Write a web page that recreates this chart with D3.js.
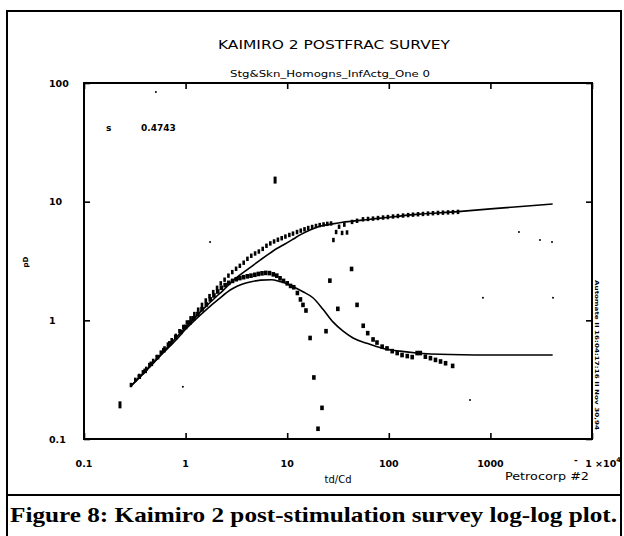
<!DOCTYPE html>
<html><head><meta charset="utf-8">
<script src="https://cdn.jsdelivr.net/npm/d3@7"></script>
<style>body{margin:0;background:#fff} svg{display:block}</style>
</head><body>
<svg id="c" width="624" height="536"></svg>
<script>
const title = "KAIMIRO 2 POSTFRAC SURVEY";
const subtitle = "Stg&Skn_Homogns_InfActg_One 0";
const caption = "Figure 8: Kaimiro 2 post-stimulation survey log-log plot.";
const xLabel = "td/Cd";
const yLabel = "pD";
const credit = "Petrocorp #2";
const sideNote = "Automate II 16:04:17:16 II Nov 30,94";
const skinLabel = "s";
const skinValue = "0.4743";
const xTicks = [0.1, 1, 10, 100, 1000, 10000];
const xTickLabels = ["0.1", "1", "10", "100", "1000", "1 ×10"];
const yTicks = [0.1, 1, 10, 100];
const yTickLabels = ["0.1", "1", "10", "100"];

// measured pressure (upper squares): [td/Cd, pD]
const pressureData = [
 [0.29,0.285],[0.32,0.315],[0.35,0.34],[0.38,0.365],[0.41,0.39],[0.44,0.42],[0.48,0.455],[0.52,0.49],
 [0.57,0.535],[0.62,0.58],[0.67,0.625],[0.73,0.68],[0.80,0.74],[0.87,0.81],[0.95,0.88],[1.03,0.96],
 [1.12,1.04],[1.22,1.13],[1.33,1.23],[1.45,1.35],[1.58,1.47],[1.72,1.6],[1.87,1.73],[2.04,1.88],
 [2.22,2.05],[2.42,2.2],[2.64,2.38],[2.88,2.55],[3.14,2.72],[3.42,2.88],[3.73,3.06],[4.06,3.3],
 [4.43,3.5],[4.83,3.66],[5.26,3.8],[5.74,4.0],[6.25,4.25],[6.82,4.45],[7.43,4.62],[8.1,4.78],
 [8.83,4.92],[9.6,5.08],[10.5,5.24],[11.4,5.38],[12.5,5.55],[13.6,5.7],[14.8,5.85],[16.1,6.0],
 [17.6,6.12],[19.2,6.24],[20.9,6.35],[22.8,6.43],[24.8,6.5],[27.0,6.55],
 [28.5,4.75],[30.3,5.55],[32.4,6.15],[34.7,5.45],[36.5,6.4],[38.8,5.5],
 [43.5,6.75],[48.7,6.9],[55.7,7.1],[62.4,7.15],[69.9,7.2],[78.3,7.28],[87.8,7.35],[98,7.42],
 [110,7.5],[123,7.57],[138,7.64],[155,7.71],[173,7.77],[194,7.83],[217,7.88],[243,7.94],
 [272,7.99],[305,8.04],[341,8.08],[383,8.12],[428,8.16],[480,8.2]
];
// measured derivative (lower squares): [td/Cd, pD']
const derivativeData = [
 [0.35,0.335],[0.40,0.375],[0.46,0.43],[0.53,0.49],[0.61,0.56],[0.70,0.64],[0.80,0.72],[0.90,0.8],
 [1.0,0.88],[1.1,0.96],[1.2,1.04],[1.32,1.13],[1.45,1.24],[1.6,1.36],[1.75,1.5],[1.9,1.62],
 [2.07,1.75],[2.25,1.88],[2.45,1.98],[2.66,2.07],[2.9,2.15],[3.15,2.22],[3.42,2.27],[3.72,2.31],
 [4.05,2.35],[4.4,2.38],[4.8,2.42],[5.2,2.46],[5.65,2.49],[6.15,2.51],[6.7,2.5],[7.3,2.44],
 [7.9,2.38],[8.5,2.26],[9.2,2.15],[10.0,2.05],[10.8,1.95],[11.6,1.9],[12.6,1.7],[13.5,1.5],
 [14.3,1.35],[15.3,1.21],[16.8,0.71],[18.3,0.33],[20.1,0.122],[22.0,0.183],[24.1,0.81],[26.3,2.16],
 [31.5,1.25],[43,2.71],[48.7,1.35],[56,0.9],[62,0.78],[70,0.69],[76.5,0.65],[86,0.6],[96,0.58],
 [108,0.55],[121,0.53],[135,0.51],[152,0.5],[170,0.49],[190,0.53],[204,0.53],[229,0.494],
 [257,0.48],[288,0.464],[323,0.45],[362,0.435],[425,0.413]
];
// type-curve match (solid lines)
const pressureModel = [
 [0.29,0.28],[0.4,0.37],[0.6,0.54],[0.8,0.71],[1.0,0.87],[1.5,1.25],[2.0,1.58],[2.33,1.78],
 [3.0,2.2],[4.3,2.78],[5.5,3.25],[6.5,3.6],[8.0,4.05],[9.5,4.4],[11.5,4.85],[13.4,5.25],[17,5.8],
 [21,6.2],[28,6.5],[35,6.7],[42,6.82],[60,7.05],[100,7.4],[200,7.85],[480,8.25],[1000,8.7],
 [2000,9.1],[4100,9.57]
];
const derivativeModel = [
 [0.29,0.28],[0.4,0.37],[0.6,0.53],[0.8,0.68],[1.0,0.84],[1.63,1.25],[2.1,1.5],[2.75,1.8],
 [4.0,2.07],[5.5,2.18],[7.0,2.2],[8.5,2.12],[10,2.03],[11.4,1.92],[14.3,1.74],[17.9,1.55],
 [22.5,1.24],[28.2,0.97],[35.5,0.81],[44.5,0.71],[61,0.64],[88,0.58],[129,0.55],[188,0.53],
 [400,0.515],[1240,0.51],[4100,0.51]
];
const outliers = [[0.226,0.194],[7.6,15.2]];
const specks = [[0.51,84],[1.74,4.57],[0.94,0.275],[845,1.55],[1910,5.56],[3075,4.75],[4040,4.57],[4130,1.55],[630,0.213]];

const svg = d3.select("#c");
const W = 624, H = 536;
const x = d3.scaleLog().domain([0.1, 1e4]).range([84, 592]);
const y = d3.scaleLog().domain([0.1, 100]).range([439, 83]);
const plotFont = "'DejaVu Sans', sans-serif";

// outer frame
svg.append("rect").attr("x", 7).attr("y", 11).attr("width", 614).attr("height", 540)
  .attr("fill", "none").attr("stroke", "#000").attr("stroke-width", 2);
svg.append("line").attr("x1", 7).attr("x2", 621).attr("y1", 495).attr("y2", 495)
  .attr("stroke", "#000").attr("stroke-width", 2);

// titles
svg.append("text").attr("x", 334).attr("y", 49).attr("text-anchor", "middle")
  .attr("font-family", plotFont).attr("font-size", 12).attr("textLength", 232)
  .attr("lengthAdjust", "spacingAndGlyphs").text(title);
svg.append("text").attr("x", 330).attr("y", 77).attr("text-anchor", "middle")
  .attr("font-family", plotFont).attr("font-size", 8.5).attr("textLength", 200)
  .attr("lengthAdjust", "spacingAndGlyphs").text(subtitle);

// plot frame
svg.append("rect").attr("x", x(0.1)).attr("y", y(100))
  .attr("width", x(1e4) - x(0.1)).attr("height", y(0.1) - y(100))
  .attr("fill", "none").attr("stroke", "#000").attr("stroke-width", 2);

// inward ticks on all four sides
const tk = 6;
svg.append("g").attr("transform", `translate(0,${y(0.1)})`)
  .call(d3.axisBottom(x).tickValues(xTicks).tickSize(-tk).tickFormat(""))
  .call(g => g.select(".domain").remove());
svg.append("g").attr("transform", `translate(0,${y(100)})`)
  .call(d3.axisTop(x).tickValues(xTicks).tickSize(-tk).tickFormat(""))
  .call(g => g.select(".domain").remove());
svg.append("g").attr("transform", `translate(${x(0.1)},0)`)
  .call(d3.axisLeft(y).tickValues(yTicks).tickSize(-tk).tickFormat(""))
  .call(g => g.select(".domain").remove());
svg.append("g").attr("transform", `translate(${x(1e4)},0)`)
  .call(d3.axisRight(y).tickValues(yTicks).tickSize(-tk).tickFormat(""))
  .call(g => g.select(".domain").remove());
svg.selectAll(".tick line").attr("stroke", "#000").attr("stroke-width", 1.6);

// tick labels
svg.append("g").selectAll("text").data(yTicks).join("text")
  .attr("x", 49).attr("y", d => y(d) + 3.5)
  .attr("font-family", plotFont).attr("font-weight", "bold").attr("font-size", 9.5)
  .text((d, i) => yTickLabels[i]);
const xl = svg.append("g").selectAll("text").data(xTicks).join("text")
  .attr("x", (d, i) => x(d) + (i === 0 ? 0 : i === 5 ? 11 : 0)).attr("y", 467)
  .attr("text-anchor", "middle")
  .attr("font-family", plotFont).attr("font-weight", "bold").attr("font-size", 9.5)
  .text((d, i) => xTickLabels[i]);
xl.filter((d, i) => i === 5).append("tspan").attr("dy", -5).attr("font-size", 6.5).text("4");
svg.append("text").attr("x", x(1e4) - 18).attr("y", 463).attr("font-family", plotFont)
  .attr("font-weight", "bold").attr("font-size", 9).text("-");

// axis titles
svg.append("text").attr("x", 338).attr("y", 483).attr("text-anchor", "middle")
  .attr("font-family", plotFont).attr("font-size", 10).text(xLabel);
svg.append("text").attr("transform", "translate(28,262) rotate(-90)").attr("text-anchor", "middle")
  .attr("font-family", plotFont).attr("font-weight", "bold").attr("font-size", 7).text(yLabel);
svg.append("text").attr("x", 505).attr("y", 480)
  .attr("font-family", plotFont).attr("font-size", 10).attr("textLength", 84)
  .attr("lengthAdjust", "spacingAndGlyphs").text(credit);
svg.append("text").attr("transform", "translate(595,280) rotate(90)")
  .attr("font-family", plotFont).attr("font-weight", "bold").attr("font-size", 5.5)
  .attr("textLength", 150).attr("lengthAdjust", "spacingAndGlyphs").text(sideNote);

// skin annotation
svg.append("text").attr("x", 106).attr("y", 131).attr("font-family", plotFont)
  .attr("font-weight", "bold").attr("font-size", 9).text(skinLabel);
svg.append("text").attr("x", 141).attr("y", 131).attr("font-family", plotFont)
  .attr("font-weight", "bold").attr("font-size", 9).text(skinValue);

// model curves
const line = d3.line().x(d => x(d[0])).y(d => y(d[1])).curve(d3.curveMonotoneX);
[pressureModel, derivativeModel].forEach(s => {
  svg.append("path").datum(s).attr("d", line).attr("fill", "none")
    .attr("stroke", "#000").attr("stroke-width", 1.6);
});

// data squares
svg.append("g").selectAll("rect").data(pressureData).join("rect")
  .attr("x", d => x(d[0]) - 1.3).attr("y", d => y(d[1]) - 2.2)
  .attr("width", 2.6).attr("height", 4.4).attr("fill", "#000");
svg.append("g").selectAll("rect").data(derivativeData).join("rect")
  .attr("x", d => x(d[0]) - 1.8).attr("y", d => y(d[1]) - 2.3)
  .attr("width", 3.6).attr("height", 4.6).attr("fill", "#000");
svg.append("g").selectAll("rect").data(outliers).join("rect")
  .attr("x", d => x(d[0]) - 1.5).attr("y", d => y(d[1]) - 3.5)
  .attr("width", 3).attr("height", 7).attr("fill", "#000");
svg.append("g").selectAll("circle").data(specks).join("circle")
  .attr("cx", d => x(d[0])).attr("cy", d => y(d[1])).attr("r", 1).attr("fill", "#000");

// caption
svg.append("text").attr("x", 10).attr("y", 522)
  .attr("font-family", "'Liberation Serif', 'Times New Roman', serif").attr("font-weight", "bold")
  .attr("font-size", 21.5).attr("textLength", 607).attr("lengthAdjust", "spacingAndGlyphs")
  .text(caption);
</script>
</body></html>
